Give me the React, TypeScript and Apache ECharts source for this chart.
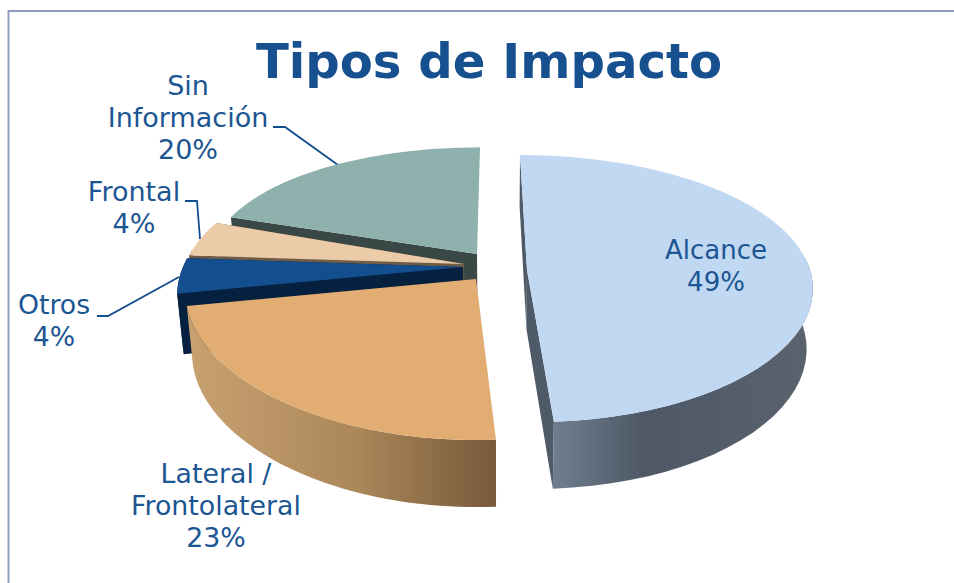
import React, { useEffect, useRef } from "react";
import * as echarts from "echarts";

const titleText = "Tipos de Impacto";
const categories = ["Alcance", "Lateral /\nFrontolateral", "Otros", "Frontal", "Sin\nInformación"];
const values = [49, 23, 4, 4, 20];
const topColors = ["#c1d8f2", "#e2ad72", "#134e8e", "#eccba8", "#8eb1ad"];
const faceColors = ["#4f5a68", "#7a5c3e", "#06203f", "#6f5c48", "#3a4845"];
const wallStops = [
  [[0, "#6f7e8e"], [0.35, "#4e5866"], [1, "#5a626f"]],
  [[0, "#c8a170"], [0.55, "#ab8759"], [1, "#775a3b"]],
  [[0, "#06203f"], [1, "#06203f"]],
  [[0, "#6f5c48"], [1, "#6f5c48"]],
  [[0, "#3a4845"], [1, "#3a4845"]],
];
const wallGradX = [[553, 812], [187, 496], [170, 200], [180, 220], [220, 480]];
// Slice geometry: apex x/y, radii, perspective, vertical perspective, shear
const apexX = [527, 476, 463, 464, 477];
const apexY = [270, 279, 267, 264, 254];
const radX = [283, 289, 280, 279, 268];
const radY = [133.5, 140, 139, 139, 124];
const perspX = [0.12, 0.1, 0.1, 0.1, 0.1];
const perspY = [0.139, 0.15, 0.14, 0.14, 0.14];
const shear = [7, 0, -30, -30, -3];
// Which cut faces are visible: [end-of-slice face, start-of-slice face]
const showFaces = [[true, true], [false, false], [true, true], [true, true], [false, true]];
const labelX = [716, 216, 54, 134, 188];
const labelY = [266, 505, 320, 207, 117];
const labelSize = [26, 26.8, 26.7, 27, 27];
const drawOrder = [4, 3, 2, 1, 0];
const leaders = [
  [[273, 127], [285, 127], [338, 165]],
  [[185, 201], [197, 201], [200, 239]],
  [[97, 316], [108, 316], [179, 277]],
];
const textColor = "#1b5592";
const total = values.reduce((a, b) => a + b, 0);

function rimPoint(i: number, deg: number): number[] {
  const t = (deg * Math.PI) / 180;
  const u = Math.sin(t);
  const v = -Math.cos(t);
  return [
    apexX[i] + radX[i] * u * (1 + perspX[i] * v) + shear[i] * v,
    apexY[i] + radY[i] * v * (1 + perspY[i] * v),
  ];
}

function drop(p: number[], v: number): number[] {
  return [p[0] - 0.02 * (p[0] - 500), p[1] + 59 + 8 * v];
}

function renderItem(_params: any, api: any) {
  const i = api.value(0);
  let start = 0;
  for (let k = 0; k < i; k++) start += (values[k] / total) * 360;
  const end = start + (api.value(1) / total) * 360;
  const steps = 48;
  const rim: number[][] = [];
  const wallTop: number[][] = [];
  const wallLow: number[][] = [];
  const low: number[][] = [];
  for (let s = 0; s <= steps; s++) {
    const d = start + ((end - start) * s) / steps;
    const p = rimPoint(i, d);
    const v = -Math.cos((d * Math.PI) / 180);
    const q = drop(p, v);
    rim.push(p);
    low.push(q);
    // only the front of the rim needs a wall; the back stays hidden by the top
    if (v > -0.1) {
      wallTop.push(p);
      wallLow.push(q);
    }
  }
  const apex = [apexX[i], apexY[i]];
  const apexLow = drop(apex, 0);
  const wall = new echarts.graphic.LinearGradient(
    wallGradX[i][0], 0, wallGradX[i][1], 0,
    wallStops[i].map((st: any) => ({ offset: st[0], color: st[1] })),
    true
  );
  const children: any[] = [];
  if (showFaces[i][0]) {
    children.push({ type: "polygon", shape: { points: [rim[steps], apex, apexLow, low[steps]] }, style: { fill: faceColors[i] } });
  }
  if (showFaces[i][1]) {
    children.push({ type: "polygon", shape: { points: [rim[0], apex, apexLow, low[0]] }, style: { fill: faceColors[i] } });
  }
  if (wallTop.length > 1) {
    children.push({ type: "polygon", shape: { points: [...wallTop, ...wallLow.slice().reverse()] }, style: { fill: wall } });
  }
  children.push({ type: "polygon", shape: { points: [apex, ...rim] }, style: { fill: topColors[i] } });
  return { type: "group", children };
}

function renderLabel(_params: any, api: any) {
  const i = api.value(0);
  return {
    type: "text",
    x: labelX[i],
    y: labelY[i],
    style: {
      text: `${categories[i]}\n${api.value(1)}%`,
      fill: textColor,
      font: `${labelSize[i]}px "DejaVu Sans"`,
      lineHeight: 32,
      align: "center",
      verticalAlign: "middle",
    },
  };
}

export default function App() {
  const ref = useRef<HTMLDivElement>(null);
  useEffect(() => {
    document.body.style.margin = "0";
    const chart = echarts.init(ref.current!, null, { renderer: "svg" });
    const data = drawOrder.map((i) => [i, values[i]]);
    chart.setOption({
      animation: false,
      backgroundColor: "#ffffff",
      title: {
        text: titleText,
        left: 484,
        top: 32,
        textAlign: "center",
        textStyle: { fontFamily: "DejaVu Sans", fontWeight: "bold", fontSize: 48.2, color: "#17508f" },
      },
      graphic: [
        {
          type: "polyline",
          shape: { points: [[8.5, 583], [8.5, 11], [954, 11]] },
          style: { stroke: "#8f9dc0", lineWidth: 2, fill: "none" },
          z: 1,
        },
        ...leaders.map((pts) => ({
          type: "polyline",
          shape: { points: pts },
          style: { stroke: "#134e8e", lineWidth: 1.8, fill: "none" },
          z: 1,
        })),
      ],
      series: [
        { type: "custom", coordinateSystem: "none", renderItem, data, silent: true, z: 2 },
        { type: "custom", coordinateSystem: "none", renderItem: renderLabel, data, silent: true, z: 3 },
      ],
    });
    return () => chart.dispose();
  }, []);
  return <div ref={ref} style={{ width: 954, height: 583 }} />;
}
